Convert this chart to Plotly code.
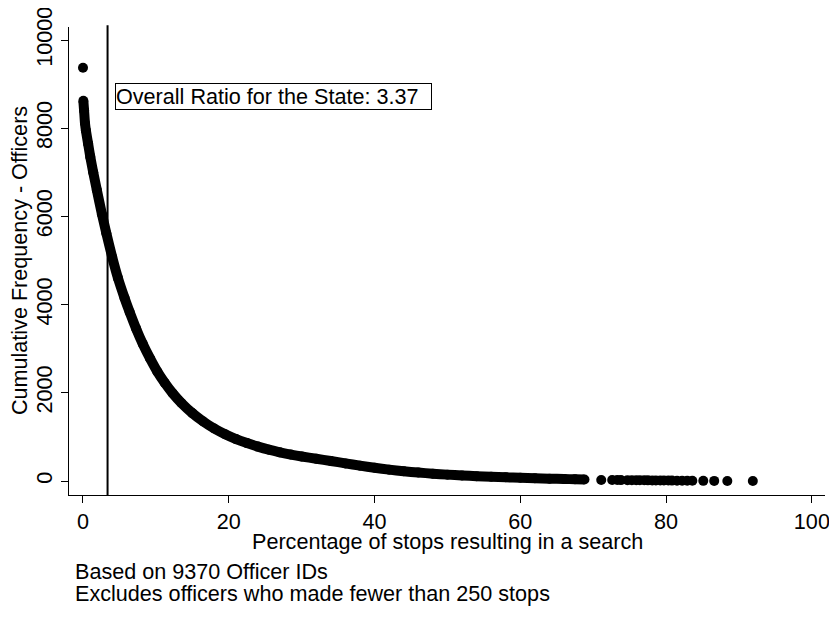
import plotly.graph_objects as go

# Data
STATE_RATIO = 3.37
N_OFFICERS = 9370

zero_pct = [0.0]
zero_count = [9370]

curve_pct = [0.05, 0.15, 0.27, 0.4, 0.7, 1.0, 1.4, 1.9, 2.6, 3.2, 4.0, 4.8, 5.7, 6.4,
             7.3, 8.2, 9.2, 10.2, 11.2, 12.3, 13.5, 15.0, 16.5, 18.0, 19.5, 21.0, 22.5,
             24.0, 25.5, 27.0, 28.5, 30.0, 32.0, 34.0, 36.0, 38.0, 40.0, 42.0, 44.0,
             46.0, 48.0, 50.0, 52.0, 54.0, 56.0, 58.0, 60.0, 62.0, 64.0, 66.0, 67.5, 68.8]
curve_count = [8620, 8400, 8120, 7950, 7650, 7350, 7000, 6600, 6050, 5620, 5080, 4600,
               4150, 3830, 3450, 3110, 2780, 2480, 2230, 1990, 1770, 1540, 1350, 1190,
               1060, 950, 860, 780, 710, 650, 600, 555, 505, 455, 400, 348, 300, 258,
               222, 192, 166, 145, 126, 110, 96, 84, 73, 63, 54, 46, 40, 35]

tail_pct = [71.1, 72.6, 73.3, 73.8, 74.7, 75.3, 75.9, 76.4, 77.0, 77.5, 78.1, 78.6,
            79.2, 79.7, 80.3, 80.8, 81.5, 82.2, 82.9, 83.6, 85.1, 86.6, 88.4, 91.9]
tail_count = [24, 23, 22, 21, 20, 19, 18, 17, 16, 15, 14, 13, 12, 11, 10, 9, 8, 7, 6,
              5, 4, 3, 2, 1]

x_ticks = [0, 20, 40, 60, 80, 100]
y_ticks = [0, 2000, 4000, 6000, 8000, 10000]
y_tick_labels = ["0", "2000", "4000", "6000", "8000", "10000"]

FONT = "Liberation Sans, Arial, sans-serif"
FS = 21.6

fig = go.Figure()
fig.add_trace(go.Scatter(x=zero_pct, y=zero_count, mode="markers",
                         marker=dict(color="black", size=10), showlegend=False))
fig.add_trace(go.Scatter(x=curve_pct, y=curve_count, mode="lines+markers",
                         line=dict(color="black", width=10, shape="spline", smoothing=0.6),
                         marker=dict(color="black", size=10), showlegend=False))
fig.add_trace(go.Scatter(x=tail_pct, y=tail_count, mode="markers",
                         marker=dict(color="black", size=10), showlegend=False))

fig.add_shape(type="line", x0=STATE_RATIO, x1=STATE_RATIO, xref="x",
              y0=0, y1=1.004, yref="paper", line=dict(color="black", width=2))

fig.add_annotation(x=4.39, y=8730, xref="x", yref="y", xanchor="left", yanchor="middle",
                   text=f"Overall Ratio for the State: {STATE_RATIO}", showarrow=False,
                   font=dict(family=FONT, size=FS, color="black"), width=315, align="left",
                   bordercolor="black", borderwidth=1, borderpad=0, bgcolor="white")

fig.add_annotation(x=-0.066, y=0.5, xref="paper", yref="paper", textangle=-90,
                   xanchor="center", yanchor="middle", showarrow=False,
                   text="Cumulative Frequency - Officers",
                   font=dict(family=FONT, size=FS, color="black"))
fig.add_annotation(x=0.5, y=-0.1004, xref="paper", yref="paper",
                   xanchor="center", yanchor="middle", showarrow=False,
                   text="Percentage of stops resulting in a search",
                   font=dict(family=FONT, size=FS, color="black"))
fig.add_annotation(x=0.0053, y=-0.1635, xref="paper", yref="paper",
                   xanchor="left", yanchor="middle", showarrow=False,
                   text=f"Based on {N_OFFICERS} Officer IDs",
                   font=dict(family=FONT, size=FS, color="black"))
fig.add_annotation(x=0.0053, y=-0.2105, xref="paper", yref="paper",
                   xanchor="left", yanchor="middle", showarrow=False,
                   text="Excludes officers who made fewer than 250 stops",
                   font=dict(family=FONT, size=FS, color="black"))

# margins compensate for the 8px default page margin of the HTML body
fig.update_layout(
    width=837, height=625,
    margin=dict(l=61, r=20, t=19, b=138, autoexpand=False),
    paper_bgcolor="white", plot_bgcolor="white",
    font=dict(family=FONT, size=FS, color="black"),
    xaxis=dict(range=[-1.92, 101.8], tickvals=x_ticks, ticks="outside", ticklen=7,
               tickcolor="black", showline=True, linecolor="black", linewidth=1,
               showgrid=False, zeroline=False, mirror=False, automargin=False,
               ticklabeloverflow="allow"),
    yaxis=dict(range=[-317, 10295], tickvals=y_ticks, ticktext=y_tick_labels,
               ticks="outside", ticklen=7,
               tickcolor="black", tickangle=-90, showline=True, linecolor="black",
               linewidth=1, showgrid=False, zeroline=False, mirror=False,
               automargin=False, ticklabeloverflow="allow"),
)

fig.write_html("out.html")
